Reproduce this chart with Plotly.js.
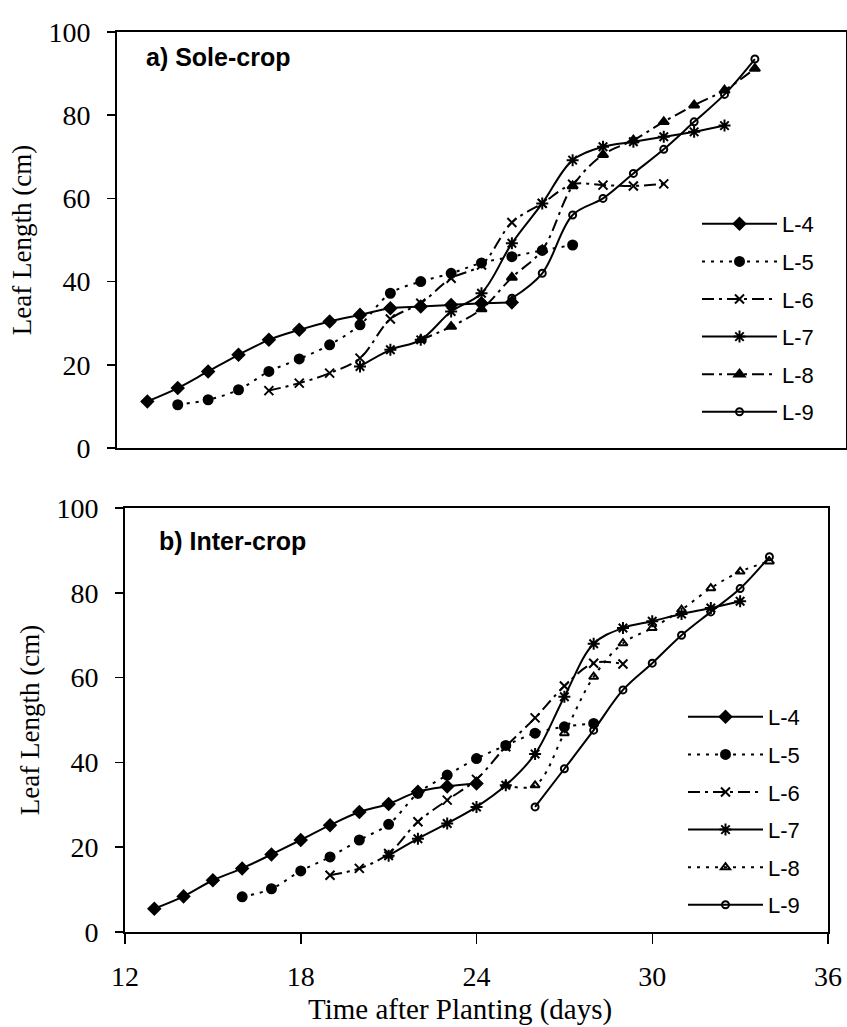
<!DOCTYPE html>
<html>
<head>
<meta charset="utf-8">
<script src="https://cdn.plot.ly/plotly-3.0.1.min.js"></script>
<style>
  html, body { margin: 0; padding: 0; background: #fff; }
  #chart { width: 847px; height: 1027px; }
</style>
</head>
<body>
<div id="chart"></div>
<script>
// Leaf length (cm) of leaves L-4 .. L-9 against days after planting

const leafNames = ["L-4", "L-5", "L-6", "L-7", "L-8", "L-9"];

// a) Sole-crop
const soleL4Days = [13, 14, 15, 16, 17, 18, 19, 20, 21, 22, 23, 24, 25];
const soleL4Len  = [11.2, 14.4, 18.4, 22.4, 26.0, 28.4, 30.4, 32.0, 33.6, 34.0, 34.4, 34.8, 35.0];
const soleL5Days = [14, 15, 16, 17, 18, 19, 20, 21, 22, 23, 24, 25, 26, 27];
const soleL5Len  = [10.4, 11.6, 14.0, 18.4, 21.4, 24.8, 29.6, 37.2, 40.0, 42.0, 44.5, 46.0, 47.5, 48.8];
const soleL6Days = [17, 18, 19, 20, 21, 22, 23, 24, 25, 26, 27, 28, 29, 30];
const soleL6Len  = [13.8, 15.6, 18.0, 21.6, 31.0, 34.8, 40.8, 44.0, 54.2, 58.8, 63.4, 63.2, 63.0, 63.5];
const soleL7Days = [20, 21, 22, 23, 24, 25, 26, 27, 28, 29, 30, 31, 32];
const soleL7Len  = [19.6, 23.6, 26.0, 32.8, 37.2, 49.2, 58.8, 69.2, 72.4, 73.6, 74.8, 76.0, 77.5];
const soleL8Days = [22, 23, 24, 25, 26, 27, 28, 29, 30, 31, 32, 33];
const soleL8Len  = [26.0, 29.2, 33.4, 41.0, 47.6, 63.0, 70.5, 74.0, 78.4, 82.4, 86.0, 91.2];
const soleL9Days = [25, 26, 27, 28, 29, 30, 31, 32, 33];
const soleL9Len  = [36.0, 42.0, 56.0, 60.0, 66.0, 71.8, 78.4, 85.0, 93.5];

// b) Inter-crop
const interL4Days = [13, 14, 15, 16, 17, 18, 19, 20, 21, 22, 23, 24];
const interL4Len  = [5.5, 8.4, 12.2, 15.0, 18.3, 21.7, 25.2, 28.3, 30.2, 33.1, 34.3, 35.0];
const interL5Days = [16, 17, 18, 19, 20, 21, 22, 23, 24, 25, 26, 27, 28];
const interL5Len  = [8.3, 10.2, 14.4, 17.7, 21.7, 25.4, 32.7, 37.0, 40.9, 44.0, 46.9, 48.4, 49.2];
const interL6Days = [19, 20, 21, 22, 23, 24, 25, 26, 27, 28, 29];
const interL6Len  = [13.4, 15.0, 18.5, 26.0, 31.1, 36.0, 43.7, 50.5, 58.0, 63.4, 63.2];
const interL7Days = [21, 22, 23, 24, 25, 26, 27, 28, 29, 30, 31, 32, 33];
const interL7Len  = [18.0, 22.0, 25.6, 29.5, 34.6, 42.0, 55.5, 68.0, 71.7, 73.3, 75.0, 76.4, 78.0];
const interL8Days = [25, 26, 27, 28, 29, 30, 31, 32, 33, 34];
const interL8Len  = [34.6, 34.6, 46.9, 60.2, 68.1, 71.7, 76.0, 81.1, 85.0, 87.4];
const interL9Days = [26, 27, 28, 29, 30, 31, 32, 33, 34];
const interL9Len  = [29.5, 38.5, 47.6, 57.1, 63.4, 70.0, 75.5, 81.0, 88.5];

const yTicks = [0, 20, 40, 60, 80, 100];
const xTicks = [12, 18, 24, 30, 36];

// Line and marker style per leaf, per panel
const DOT = "3px,6px";
const DASHDOT = "12px,5px,3px,5px";
const soleStyles = [
  { dash: "solid",  symbol: "diamond",       size: 9 },
  { dash: DOT,      symbol: "circle",        size: 9 },
  { dash: DASHDOT,  symbol: "x-thin-open",   size: 9 },
  { dash: "solid",  symbol: "asterisk-open", size: 10 },
  { dash: DASHDOT,  symbol: "triangle-up",   size: 9 },
  { dash: "solid",  symbol: "circle-open",   size: 7 }
];
const interStyles = [
  { dash: "solid",  symbol: "diamond",            size: 9 },
  { dash: DOT,      symbol: "circle",             size: 9 },
  { dash: DASHDOT,  symbol: "x-thin-open",        size: 9 },
  { dash: "solid",  symbol: "asterisk-open",      size: 10 },
  { dash: DOT,      symbol: "triangle-up-open",   size: 8 },
  { dash: "solid",  symbol: "circle-open",        size: 7 }
];

const soleSeries = [
  [soleL4Days, soleL4Len], [soleL5Days, soleL5Len], [soleL6Days, soleL6Len],
  [soleL7Days, soleL7Len], [soleL8Days, soleL8Len], [soleL9Days, soleL9Len]
];
const interSeries = [
  [interL4Days, interL4Len], [interL5Days, interL5Len], [interL6Days, interL6Len],
  [interL7Days, interL7Len], [interL8Days, interL8Len], [interL9Days, interL9Len]
];

function makeTraces(series, styles, xa, ya, legendId, prefix) {
  return series.map(function (s, i) {
    const st = styles[i];
    return {
      type: "scatter",
      mode: "lines+markers",
      x: s[0],
      y: s[1],
      name: leafNames[i],
      xaxis: xa,
      yaxis: ya,
      legend: legendId,
      legendgroup: prefix + i,
      line: { color: "#000", width: 2, dash: st.dash, shape: "spline", smoothing: 1 },
      marker: { color: "#000", symbol: st.symbol, size: st.size, line: { color: "#000", width: 2 } },
      hoverinfo: "x+y+name"
    };
  });
}

const traces = makeTraces(soleSeries, soleStyles, "x", "y", "legend", "a")
  .concat(makeTraces(interSeries, interStyles, "x2", "y2", "legend2", "b"));

const W = 847, H = 1027;
const serif = "Liberation Serif, Times New Roman, serif";
const sans = "Liberation Sans, Arial, sans-serif";

function yAxis(domain, anchor) {
  return {
    domain: domain, anchor: anchor, range: [0, 100], tickvals: yTicks,
    ticks: "outside", ticklen: 8, tickwidth: 1.5, tickcolor: "#000",
    showline: true, linecolor: "#000", linewidth: 2, mirror: true,
    showgrid: false, zeroline: false, automargin: false,
    tickfont: { family: serif, size: 28, color: "#000" },
    ticklabelstandoff: 11,
    title: { text: "Leaf Length (cm)", font: { family: serif, size: 27, color: "#000" }, standoff: 9 }
  };
}

function legendBox(topPx, leftPx) {
  return {
    x: leftPx / W, xanchor: "left", y: 1 - topPx / H, yanchor: "top",
    bgcolor: "rgba(0,0,0,0)", borderwidth: 0,
    font: { family: sans, size: 22, color: "#000" },
    itemwidth: 75, tracegroupgap: 6, traceorder: "grouped"
  };
}

const layout = {
  width: W, height: H, autosize: false,
  margin: { l: 0, r: 0, t: 0, b: 0, pad: 0 },
  paper_bgcolor: "#fff", plot_bgcolor: "#fff",
  showlegend: true,
  xaxis: {
    domain: [117 / W, 846 / W], anchor: "y", range: [12, 36],
    showticklabels: false, ticks: "", showline: true, linecolor: "#000",
    linewidth: 2, mirror: true, showgrid: false, zeroline: false, automargin: false
  },
  yaxis: yAxis([1 - 448 / H, 1 - 32 / H], "x"),
  xaxis2: {
    domain: [125 / W, 828 / W], anchor: "y2", range: [12, 36], tickvals: xTicks,
    ticks: "outside", ticklen: 10, tickwidth: 1.5, tickcolor: "#000",
    showline: true, linecolor: "#000", linewidth: 2, mirror: true,
    showgrid: false, zeroline: false, automargin: false,
    tickfont: { family: serif, size: 28, color: "#000" },
    ticklabelstandoff: 8
  },
  yaxis2: yAxis([1 - 932 / H, 1 - 508 / H], "x2"),
  legend: legendBox(203, 697),
  legend2: legendBox(696, 683),
  annotations: [
    { text: "Time after Planting (days)", xref: "paper", yref: "paper", x: 460 / W, y: 1 - 1009 / H,
      xanchor: "center", yanchor: "middle", showarrow: false,
      font: { family: serif, size: 29, color: "#000" } },
    { text: "<b>a) Sole-crop</b>", xref: "paper", yref: "paper", x: 144 / W, y: 1 - 57 / H,
      xanchor: "left", yanchor: "middle", showarrow: false,
      font: { family: sans, size: 25, color: "#000" } },
    { text: "<b>b) Inter-crop</b>", xref: "paper", yref: "paper", x: 157 / W, y: 1 - 541 / H,
      xanchor: "left", yanchor: "middle", showarrow: false,
      font: { family: sans, size: 25, color: "#000" } }
  ]
};

Plotly.newPlot("chart", traces, layout, { staticPlot: true, displayModeBar: false });
</script>
</body>
</html>
